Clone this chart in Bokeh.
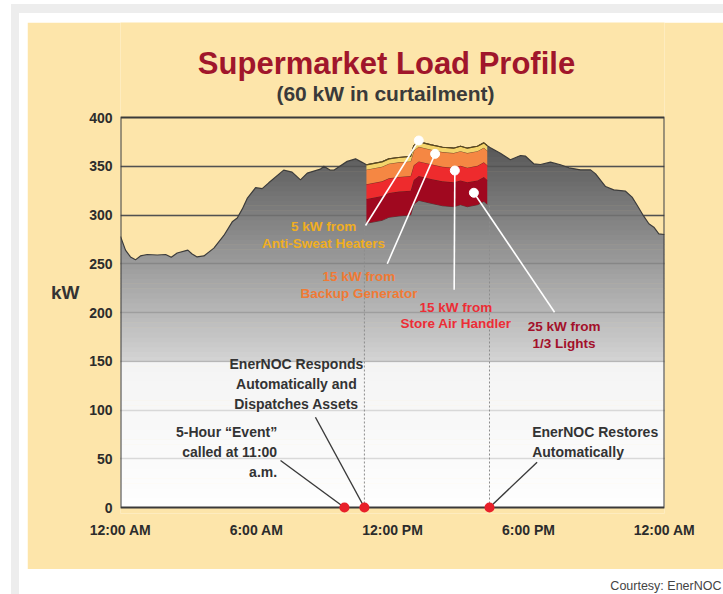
import numpy as np
from bokeh.plotting import figure
from bokeh.layouts import column, row
from bokeh.models import Range1d, FixedTicker, Label, LinearAxis, Spacer
from bokeh.core.properties import value
from bokeh.embed import file_html
from bokeh.resources import INLINE

# ---------------- data ----------------
hours = [0.0, 0.22, 0.44, 0.66, 0.88, 1.18, 1.62, 1.99, 2.24, 2.5, 2.97, 3.16, 3.38, 3.68,
         4.12, 4.56, 4.93, 5.15, 5.37, 5.59, 5.96, 6.25, 6.54, 7.2, 7.57, 7.94, 8.24, 8.82,
         8.97, 9.26, 9.41, 10.0, 10.37, 10.66, 10.85, 11.54, 11.84, 12.28, 12.8, 12.94,
         13.16, 13.7, 14.2, 14.7, 15.0, 15.3, 15.75, 16.03, 16.18, 16.32, 16.76, 17.2,
         17.65, 17.87, 18.23, 18.53, 18.97, 19.41, 19.78, 20.29, 20.74, 20.96, 21.4,
         21.76, 22.28, 22.57, 22.8, 23.09, 23.31, 23.53, 23.75, 24.0]
load_kw = [278, 264, 257, 254, 258, 259.5, 259, 259.5, 256.7, 261, 264, 260, 257, 258,
           266, 279, 293, 297, 306, 317, 328, 327, 333, 346, 344, 336, 343, 347,
           350, 346, 346, 355, 357.6, 354, 351.5, 354.5, 357.6, 359, 360, 371,
           375, 372, 369.5, 368.5, 370.5, 368.5, 370.5, 374, 371, 369, 363.4, 356.6,
           361, 360.3, 352.5, 351.8, 354.2, 351.5, 348.4, 346.3, 346.3, 342.2, 329.2,
           325.8, 324.4, 318.3, 309.7, 298.5, 291, 287.5, 280.7, 280]
event_window = [10.85, 16.18]
curtail_sources = ["1/3 Lights", "Store Air Handler", "Backup Generator", "Anti-Sweat Heaters"]
curtail_kw = [25, 15, 15, 5]
marker_hours = [9.88, 10.76, 16.28]
y_ticks = [0, 50, 100, 150, 200, 250, 300, 350, 400]
x_ticks = [0, 6, 12, 18, 24]
x_tick_labels = ["12:00 AM", "6:00 AM", "12:00 PM", "6:00 PM", "12:00 AM"]

# ---------------- styles / layout ----------------
FONT = "Liberation Sans"
BEIGE = "#FDE5AA"
PAGE_GRAY = "#EDEDED"
TXT = "#333333"
LAYER_COLORS = ["#A0081F", "#EE2B2D", "#F58743", "#F4D46B"]
LABEL_COLORS = ["#A3102A", "#EC2D36", "#F07A35", "#F0AE22"]

PANEL_X, PANEL_Y, PANEL_W, PANEL_H = 27, 22, 696, 547   # beige panel on the page
FL, FR, FT, FB = 120, 664, 117, 507                     # chart box (0..24 h, 0..400 kW)
PX_KW = (FB - FT) / 400.0
PX_H = (FR - FL) / 24.0
EXTRA_BOTTOM = 6                                         # px of frame below 0 kW

p = figure(width=PANEL_W, height=PANEL_H,
           x_range=Range1d(0, 24),
           y_range=Range1d(-EXTRA_BOTTOM / PX_KW, 400 + (FT - PANEL_Y) / PX_KW),
           output_backend="svg", toolbar_location=None, title_location=None,
           min_border_left=FL - PANEL_X, min_border_right=PANEL_X + PANEL_W - FR,
           min_border_top=0,
           min_border_bottom=PANEL_Y + PANEL_H - (FB + EXTRA_BOTTOM),
           background_fill_color=BEIGE, border_fill_color=BEIGE,
           outline_line_color=None,
           styles={"box-shadow": "9px 8px 0 17px #ffffff, 6px 4px 0 22px " + PAGE_GRAY})
p.grid.visible = False

# axes
p.xaxis.ticker = FixedTicker(ticks=x_ticks)
p.xaxis.major_label_overrides = {t: lab for t, lab in zip(x_ticks, x_tick_labels)}
p.yaxis.ticker = FixedTicker(ticks=y_ticks)
for ax in (p.xaxis, p.yaxis):
    ax.axis_line_color = None
    ax.major_tick_line_color = None
    ax.minor_tick_line_color = None
    ax.major_tick_out = 0
    ax.major_tick_in = 0
    ax.minor_tick_out = 0
    ax.major_label_text_font = FONT
    ax.major_label_text_font_style = "bold"
    ax.major_label_text_font_size = "14px"
    ax.major_label_text_color = "#2c2c2c"
p.xaxis.major_label_standoff = 8
p.yaxis.major_label_standoff = 8

# "kW" unit label, carried by a second left axis with one tick
KW_LABEL_AT = (FB - 292) / PX_KW
kw_axis = LinearAxis(ticker=FixedTicker(ticks=[KW_LABEL_AT]),
                     major_label_overrides={KW_LABEL_AT: "kW"},
                     axis_line_color=None, major_tick_line_color=None,
                     minor_tick_line_color=None, major_tick_out=0, major_tick_in=0,
                     minor_tick_out=0, major_label_standoff=7,
                     major_label_text_font=FONT, major_label_text_font_style="bold",
                     major_label_text_font_size="19px", major_label_text_color=TXT)
p.add_layout(kw_axis, "left")

h = np.array(hours, dtype=float)
L = np.array(load_kw, dtype=float)

# grid lines over the beige part
p.hspan(y=y_ticks[1:-1], line_color="#5e5e5e", line_width=1.3)


def clip_curve(x, y, lo, hi):
    xs, ys = [x[0]], [min(max(y[0], lo), hi)]
    for i in range(len(x) - 1):
        x0, y0, x1, y1 = x[i], y[i], x[i + 1], y[i + 1]
        cuts = []
        for lev in (lo, hi):
            if (y0 - lev) * (y1 - lev) < 0:
                cuts.append(x0 + (lev - y0) * (x1 - x0) / (y1 - y0))
        for xc in sorted(cuts):
            yc = y0 + (xc - x0) * (y1 - y0) / (x1 - x0)
            xs.append(xc)
            ys.append(min(max(yc, lo), hi))
        xs.append(x1)
        ys.append(min(max(y1, lo), hi))
    return xs, ys


# gradient fill under the load curve
band_xs, band_ys, band_cols = [], [], []
edges = np.arange(0, 405, 5)
for lo, hi in zip(edges[:-1], edges[1:]):
    if L.max() <= lo:
        continue
    base = max(lo - 0.6, 0)
    cx, cy = clip_curve(h, L, base, hi)
    band_xs.append(cx + cx[::-1])
    band_ys.append(cy + [base] * len(cx))
    m = (lo + hi) / 2
    if m >= 150:
        f = min((m - 150) / 220.0, 1.0)
        g = int(round(212 - f * 124))
    else:
        g = int(round(254 - (m / 150.0) * 10))
    band_cols.append("#%02x%02x%02x" % (g, g, g))
p.patches(band_xs, band_ys, fill_color=band_cols, line_color=None)

# grid lines over the gray/white part
p.hspan(y=y_ticks[1:-1], line_color="black", line_alpha=0.13, line_width=1.3)

# load outline
p.line(h, L, line_color="#3c3c3c", line_width=1.2)

# curtailment layers during the event
mask = (h >= event_window[0]) & (h <= event_window[1])
eh = h[mask]
el = L[mask]
bottom = el - sum(curtail_kw)
p.line(eh, bottom, line_color="#3c1010", line_width=1, line_alpha=0.6)
for kw, col in zip(curtail_kw, LAYER_COLORS):
    top = bottom + kw
    p.varea(x=eh, y1=bottom, y2=top, fill_color=col)
    p.line(eh, top, line_color="#4a2010", line_width=1, line_alpha=0.55)
    bottom = top
p.line(eh, el, line_color="#5a4a20", line_width=1.2)

# dotted event markers
dot_x = marker_hours[1:]
dot_top = [float(np.interp(t, h, L)) - sum(curtail_kw) for t in dot_x]
p.segment(x0=dot_x, y0=[0, 0], x1=dot_x, y1=dot_top, line_color="#8c8c8c",
          line_width=1, line_dash="2 2")

# chart border
p.quad(left=[x_ticks[0]], right=[x_ticks[-1]], bottom=[y_ticks[0]], top=[y_ticks[-1]],
       fill_color=None, line_color="#3a3a3a", line_width=2)

# white call-outs for curtailment sources (dot on layer -> label)
call_dots_x = [15.59, 14.75, 13.88, 13.16]
call_dots_y = [322.8, 345.6, 362.7, 376.4]
call_end_x = [19.15, 14.72, 11.77, 10.81]
call_end_y = [200.3, 223.3, 250.0, 289.2]
p.segment(x0=call_dots_x, y0=call_dots_y, x1=call_end_x, y1=call_end_y,
          line_color="white", line_width=1.6)
p.scatter(call_dots_x, call_dots_y, size=9, fill_color="white", line_color="white")

label_pos = [(19.57, 177.2), (14.80, 196.9), (10.52, 228.5), (8.96, 279.3)]
label_texts = ["%d kW from\n%s" % (kw, src) for kw, src in zip(curtail_kw, curtail_sources)]
for (tx, ty), txt, col in zip(label_pos, label_texts, LABEL_COLORS):
    p.text(x=[tx], y=[ty], text=[txt], text_font=value(FONT), text_font_style="bold",
           text_font_size="13.5px", text_color=col, text_align="center",
           text_baseline="middle", text_line_height=1.13)

# dark connector lines to event markers
p.segment(x0=[7.06, 8.6, 18.38], y0=[48.2, 92.6, 46.5], x1=marker_hours, y1=[0, 0, 0],
          line_color="#3a3a3a", line_width=1.4)
p.scatter(marker_hours, [0, 0, 0], size=10, fill_color="#E8202A", line_color=None)

note_style = dict(text_font=value(FONT), text_font_style="bold", text_font_size="14px",
                  text_color=TXT, text_baseline="middle", text_line_height=1.26)
p.text(x=[7.76], y=[126.8], text=["EnerNOC Responds\nAutomatically and\nDispatches Assets"],
       text_align="center", **note_style)
p.text(x=[6.91], y=[56.9], text=["5-Hour \u201cEvent\u201d\ncalled at 11:00\na.m."],
       text_align="right", **note_style)
p.text(x=[18.16], y=[67.0], text=["EnerNOC Restores\nAutomatically"],
       text_align="left", **note_style)

# title and subtitle (inside the frame area above the chart box)
p.add_layout(Label(x=(386 - FL) / PX_H, y=(FB - 63) / PX_KW,
                   text="Supermarket Load Profile", text_font=FONT, text_font_style="bold",
                   text_font_size="31px", text_color="#A0162B", text_align="center",
                   text_baseline="middle"))
p.add_layout(Label(x=(385 - FL) / PX_H, y=(FB - 93) / PX_KW,
                   text="(60 kW in curtailment)", text_font=FONT, text_font_style="bold",
                   text_font_size="21px", text_color="#3a3a3a", text_align="center",
                   text_baseline="middle"))

# footer with the credit line
FOOT_H = 594 - (PANEL_Y + PANEL_H)
footer = figure(width=PANEL_W, height=FOOT_H, x_range=Range1d(0, PANEL_W),
                y_range=Range1d(0, FOOT_H), output_backend="svg", toolbar_location=None,
                title_location=None, x_axis_location=None, y_axis_location=None,
                min_border=0, border_fill_color="white", background_fill_color="white",
                outline_line_color=None)
footer.grid.visible = False
footer.text(x=[PANEL_W - 2], y=[FOOT_H - (585 - (PANEL_Y + PANEL_H))],
            text=["Courtesy: EnerNOC"], text_font=value(FONT), text_font_size="12.5px",
            text_color="#444444", text_align="right", text_baseline="middle")

layout = column(Spacer(width=PANEL_X + PANEL_W, height=PANEL_Y),
                row(Spacer(width=PANEL_X, height=PANEL_H), p),
                row(Spacer(width=PANEL_X, height=FOOT_H), footer))

open("out.html", "w").write(file_html(layout, INLINE))
